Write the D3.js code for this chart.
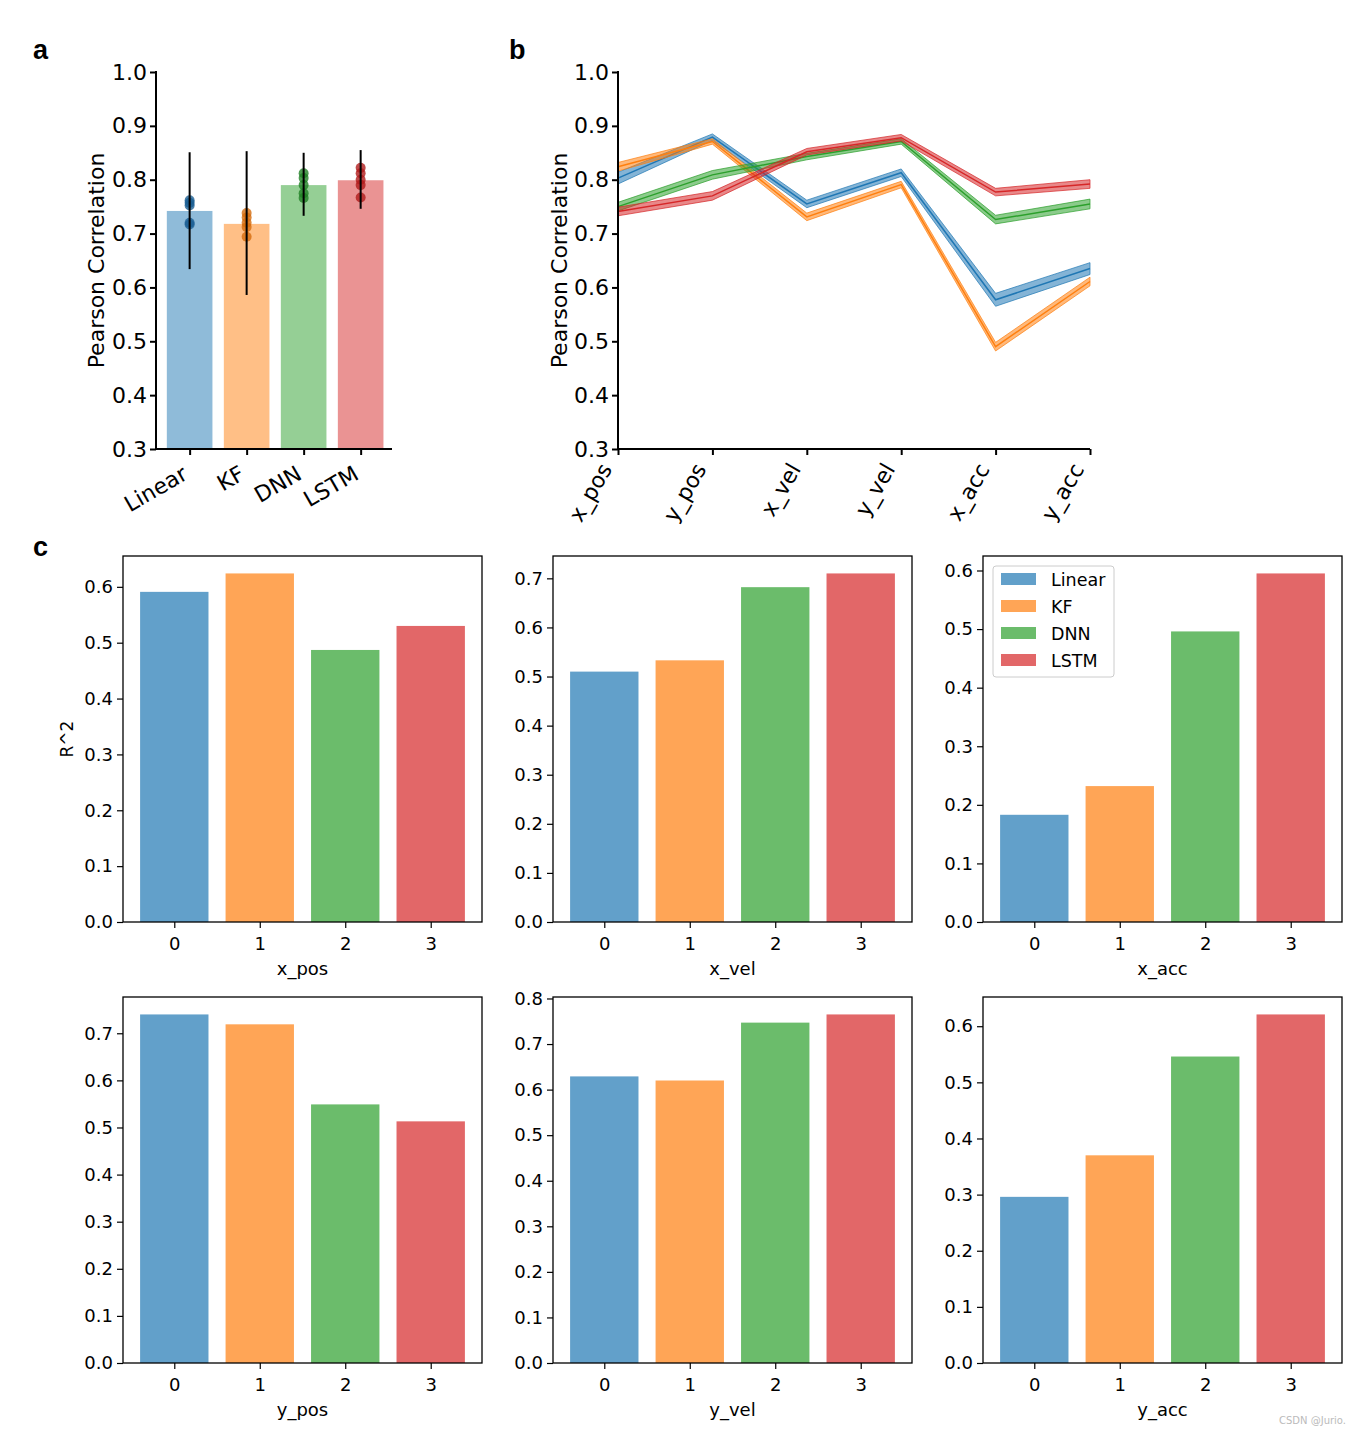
<!DOCTYPE html>
<html><head><meta charset="utf-8">
<script src="https://cdn.jsdelivr.net/npm/d3@7"></script>
<style>
body{margin:0;background:#fff}
svg text{font-family:"DejaVu Sans",sans-serif;fill:#000}
</style>
</head><body>
<svg id="chart" width="1361" height="1435"></svg>
<script>
// ---------- data ----------
const models = ["Linear", "KF", "DNN", "LSTM"];
const colors = ["#1f77b4", "#ff7f0e", "#2ca02c", "#d62728"];
const dotColors = ["#1b5f93", "#d56c0c", "#1f7f24", "#b01c1c"];

// panel a
const meanCorr = [0.742, 0.718, 0.790, 0.799];
const errLow   = [0.634, 0.586, 0.733, 0.746];
const errHigh  = [0.851, 0.853, 0.850, 0.855];
const foldsLinear = [0.762, 0.757, 0.752, 0.720, 0.717];
const foldsKF     = [0.738, 0.730, 0.720, 0.712, 0.694];
const foldsDNN    = [0.812, 0.803, 0.790, 0.775, 0.766];
const foldsLSTM   = [0.822, 0.812, 0.800, 0.790, 0.767];

// panel b
const variables = ["x_pos", "y_pos", "x_vel", "y_vel", "x_acc", "y_acc"];
const corrLinear = [0.803, 0.879, 0.755, 0.813, 0.577, 0.635];
const corrKF     = [0.824, 0.871, 0.731, 0.791, 0.490, 0.611];
const corrDNN    = [0.750, 0.809, 0.843, 0.871, 0.726, 0.755];
const corrLSTM   = [0.741, 0.770, 0.852, 0.878, 0.777, 0.792];
const semLinear = [0.011, 0.006, 0.007, 0.007, 0.012, 0.011];
const semKF     = [0.008, 0.005, 0.007, 0.006, 0.008, 0.008];
const semDNN    = [0.008, 0.008, 0.006, 0.005, 0.008, 0.009];
const semLSTM   = [0.008, 0.008, 0.006, 0.006, 0.007, 0.008];

// panel c (R^2)
const r2_x_pos = [0.591, 0.624, 0.487, 0.530];
const r2_x_vel = [0.510, 0.533, 0.682, 0.710];
const r2_x_acc = [0.183, 0.232, 0.496, 0.595];
const r2_y_pos = [0.740, 0.719, 0.549, 0.513];
const r2_y_vel = [0.629, 0.620, 0.747, 0.765];
const r2_y_acc = [0.296, 0.370, 0.546, 0.621];

const barIdx = [0, 1, 2, 3];

// ---------- drawing ----------
const svg = d3.select("#chart");

function panelLetter(t, x, y) {
  svg.append("text").attr("x", x).attr("y", y)
    .style("font-family", "'Liberation Sans',Arial,sans-serif")
    .style("font-weight", "bold").style("font-size", "27px").text(t);
}
panelLetter("a", 33, 59);
panelLetter("b", 509, 59);
panelLetter("c", 33, 556);

function styleAxis(g, fs, sw) {
  g.select(".domain").remove();
  g.selectAll(".tick line").attr("stroke", "#000").attr("stroke-width", sw);
  g.selectAll(".tick text").style("font-size", fs + "px").attr("fill", "#000");
}

// ---- Panel a ----
(function () {
  const L = 156, R = 392, T = 72, B = 449;
  const x = d3.scaleLinear().domain([-0.59, 3.55]).range([L, R]);
  const y = d3.scaleLinear().domain([0.3, 1.0]).range([B, T]);
  const g = svg.append("g");
  const bw = x(0.4) - x(0);
  g.selectAll("rect").data(meanCorr).join("rect")
    .attr("x", (d, i) => x(i) - bw).attr("width", bw * 2)
    .attr("y", d => y(d)).attr("height", d => B - y(d))
    .attr("fill", (d, i) => colors[i]).attr("fill-opacity", 0.5);
  const folds = [foldsLinear, foldsKF, foldsDNN, foldsLSTM];
  folds.forEach((arr, i) => {
    g.selectAll(null).data(arr).join("circle")
      .attr("cx", x(i)).attr("cy", d => y(d)).attr("r", 5)
      .attr("fill", dotColors[i]).attr("fill-opacity", 0.8);
  });
  g.selectAll("line.err").data(meanCorr).join("line").attr("class", "err")
    .attr("x1", (d, i) => x(i)).attr("x2", (d, i) => x(i))
    .attr("y1", (d, i) => y(errLow[i])).attr("y2", (d, i) => y(errHigh[i]))
    .attr("stroke", "#000").attr("stroke-width", 2);
  const ya = g.append("g").attr("transform", `translate(${L},0)`)
    .call(d3.axisLeft(y).tickValues(d3.range(0.3, 1.001, 0.1)).tickFormat(d3.format(".1f")).tickSize(6).tickPadding(3));
  styleAxis(ya, 22, 2);
  const xa = g.append("g").attr("transform", `translate(0,${B})`)
    .call(d3.axisBottom(x).tickValues(barIdx).tickFormat(i => models[i]).tickSize(6));
  styleAxis(xa, 22, 2);
  xa.selectAll(".tick text").attr("text-anchor", "end").attr("dy", null).attr("y", 0)
    .attr("transform", "translate(-4,24) rotate(-30)").attr("dominant-baseline", "middle");
  g.append("line").attr("x1", L).attr("x2", L).attr("y1", T - 1).attr("y2", B + 1).attr("stroke", "#000").attr("stroke-width", 2);
  g.append("line").attr("x1", L - 1).attr("x2", R).attr("y1", B).attr("y2", B).attr("stroke", "#000").attr("stroke-width", 2);
  g.append("text").attr("transform", `translate(104,${(T + B) / 2}) rotate(-90)`)
    .attr("text-anchor", "middle").style("font-size", "22px").text("Pearson Correlation");
})();

// ---- Panel b ----
(function () {
  const L = 618, R = 1090, T = 72, B = 449;
  const x = d3.scalePoint().domain(variables).range([L, R]);
  const y = d3.scaleLinear().domain([0.3, 1.0]).range([B, T]);
  const g = svg.append("g");
  const series = [[corrLinear, semLinear], [corrKF, semKF], [corrDNN, semDNN], [corrLSTM, semLSTM]];
  series.forEach(([vals, sem], i) => {
    const pts = vals.map((v, j) => ({ k: variables[j], v, s: sem[j] }));
    const area = d3.area().x(d => x(d.k)).y0(d => y(d.v - d.s)).y1(d => y(d.v + d.s));
    g.append("path").attr("d", area(pts)).attr("fill", colors[i]).attr("fill-opacity", 0.55)
      .attr("stroke", colors[i]).attr("stroke-opacity", 0.7).attr("stroke-width", 1);
    const line = d3.line().x(d => x(d.k)).y(d => y(d.v));
    g.append("path").attr("d", line(pts)).attr("fill", "none").attr("stroke", colors[i]).attr("stroke-width", 1.5);
  });
  const ya = g.append("g").attr("transform", `translate(${L},0)`)
    .call(d3.axisLeft(y).tickValues(d3.range(0.3, 1.001, 0.1)).tickFormat(d3.format(".1f")).tickSize(6).tickPadding(3));
  styleAxis(ya, 22, 2);
  const xa = g.append("g").attr("transform", `translate(0,${B})`)
    .call(d3.axisBottom(x).tickSize(6));
  styleAxis(xa, 22, 2);
  xa.selectAll(".tick text").attr("text-anchor", "end").attr("dy", null).attr("y", 0)
    .attr("transform", "translate(-11,17) rotate(-60)").attr("dominant-baseline", "middle");
  g.append("line").attr("x1", L).attr("x2", L).attr("y1", T - 1).attr("y2", B + 1).attr("stroke", "#000").attr("stroke-width", 2);
  g.append("line").attr("x1", L - 1).attr("x2", R).attr("y1", B).attr("y2", B).attr("stroke", "#000").attr("stroke-width", 2);
  g.append("text").attr("transform", `translate(567,${(T + B) / 2}) rotate(-90)`)
    .attr("text-anchor", "middle").style("font-size", "22px").text("Pearson Correlation");
})();

// ---- Panel c ----
const cPanels = [
  { vals: r2_x_pos, label: "x_pos", L: 123, T: 556 },
  { vals: r2_x_vel, label: "x_vel", L: 553, T: 556 },
  { vals: r2_x_acc, label: "x_acc", L: 983, T: 556 },
  { vals: r2_y_pos, label: "y_pos", L: 123, T: 997 },
  { vals: r2_y_vel, label: "y_vel", L: 553, T: 997 },
  { vals: r2_y_acc, label: "y_acc", L: 983, T: 997 },
];
cPanels.forEach((p, pi) => {
  const W = 359, H = 366;
  const x = d3.scaleLinear().domain([-0.6, 3.6]).range([p.L, p.L + W]);
  const y = d3.scaleLinear().domain([0, d3.max(p.vals) * 1.05]).range([p.T + H, p.T]);
  const g = svg.append("g");
  const bw = x(0.4) - x(0);
  g.selectAll("rect").data(p.vals).join("rect")
    .attr("x", (d, i) => x(i) - bw).attr("width", bw * 2)
    .attr("y", d => y(d)).attr("height", d => y(0) - y(d))
    .attr("fill", (d, i) => colors[i]).attr("fill-opacity", 0.7);
  const ya = g.append("g").attr("transform", `translate(${p.L},0)`)
    .call(d3.axisLeft(y).ticks(8).tickFormat(d3.format(".1f")).tickSize(6).tickPadding(4));
  styleAxis(ya, 18, 1.2);
  const xa = g.append("g").attr("transform", `translate(0,${p.T + H})`)
    .call(d3.axisBottom(x).tickValues(barIdx).tickFormat(d3.format("d")).tickSize(6).tickPadding(9));
  styleAxis(xa, 18, 1.2);
  g.append("rect").attr("x", p.L).attr("y", p.T).attr("width", W).attr("height", H)
    .attr("fill", "none").attr("stroke", "#000").attr("stroke-width", 1.3);
  g.append("text").attr("x", p.L + W / 2).attr("y", p.T + H + 53)
    .attr("text-anchor", "middle").style("font-size", "18px").text(p.label);
  if (pi === 0) {
    g.append("text").attr("transform", `translate(73,${p.T + H / 2}) rotate(-90)`)
      .attr("text-anchor", "middle").style("font-size", "17px").text("R^2");
  }
  if (pi === 2) {
    const lg = g.append("g");
    lg.append("rect").attr("x", 993).attr("y", 566).attr("width", 121).attr("height", 111)
      .attr("rx", 3).attr("fill", "#fff").attr("fill-opacity", 0.8).attr("stroke", "#ccc").attr("stroke-width", 1);
    models.forEach((m, i) => {
      lg.append("rect").attr("x", 1001).attr("y", 573 + i * 27).attr("width", 35).attr("height", 12)
        .attr("fill", colors[i]).attr("fill-opacity", 0.7);
      lg.append("text").attr("x", 1051).attr("y", 586 + i * 27).style("font-size", "17.5px").text(m);
    });
  }
});

svg.append("text").attr("x", 1346).attr("y", 1424).attr("text-anchor", "end")
  .style("font-size", "10px").style("fill", "#bbb").text("CSDN @Jurio.");
</script>
</body></html>
